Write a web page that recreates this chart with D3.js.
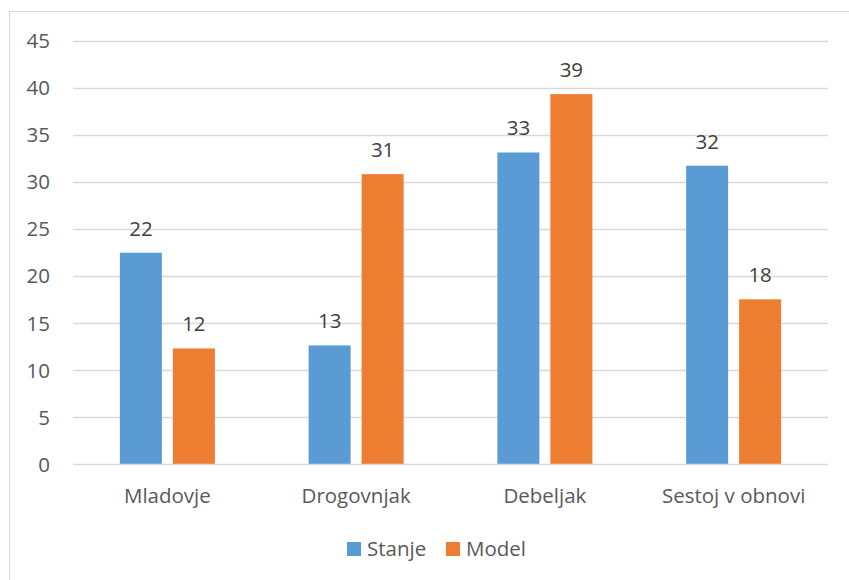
<!DOCTYPE html>
<html>
<head>
<meta charset="utf-8">
<script src="https://cdn.jsdelivr.net/npm/d3@7/dist/d3.min.js"></script>
<style>
  html, body { margin: 0; padding: 0; background: #fff; }
  svg { display: block; font-family: "Open Sans", "Noto Sans", sans-serif; }
</style>
</head>
<body>
<svg id="chart" width="849" height="580"></svg>
<script>
// Stands by category: current state (Stanje) vs. model target (Model)
const categories = ["Mladovje", "Drogovnjak", "Debeljak", "Sestoj v obnovi"];
const seriesNames = ["Stanje", "Model"];
const stanje = [22.45, 12.6, 33.1, 31.7];
const model = [12.28, 30.8, 39.3, 17.5];
const yTicks = [0, 5, 10, 15, 20, 25, 30, 35, 40, 45];
const colors = ["#5b9bd5", "#ed7d31"];

const FONT = "'Open Sans', 'Noto Sans', sans-serif";
const FS = 20.5;

const svg = d3.select("#chart");
const W = 849, H = 580;

// chart frame (left and top edges visible)
svg.append("rect")
  .attr("x", 9.5).attr("y", 11.5)
  .attr("width", W + 10).attr("height", H + 10)
  .attr("fill", "#fff").attr("stroke", "#d9d9d9").attr("stroke-width", 1);

const plot = { left: 73, right: 828, top: 40.5, bottom: 464 };

const x0 = d3.scaleBand().domain(categories).range([plot.left, plot.right]);
const y = d3.scaleLinear().domain([0, 45]).range([plot.bottom, plot.top]);

// bars within a category: 42px wide with an 11px gap
const barW = 42, barGap = 11;
const barX = k => (k === 0 ? -(barW + barGap / 2) : barGap / 2);

// horizontal gridlines
svg.append("g").selectAll("line")
  .data(yTicks.filter(t => t > 0))
  .join("line")
  .attr("x1", plot.left).attr("x2", plot.right)
  .attr("y1", d => Math.round(y(d)) + 0.5).attr("y2", d => Math.round(y(d)) + 0.5)
  .attr("stroke", "#d9d9d9").attr("stroke-width", 1.3);

// y-axis tick labels
const yAxis = d3.axisLeft(y).tickValues(yTicks).tickSize(0).tickPadding(0);
const gy = svg.append("g").attr("transform", `translate(${50},0)`).call(yAxis);
gy.select(".domain").remove();
gy.selectAll("text")
  .attr("fill", "#595959").attr("font-size", FS)
  .attr("font-family", FONT)
  .attr("dy", "0.35em");

const series = [stanje, model];
const data = categories.map((c, i) => ({
  cat: c,
  vals: seriesNames.map((s, k) => ({ name: s, value: series[k][i], color: colors[k] }))
}));

const groups = svg.append("g").selectAll("g")
  .data(data).join("g")
  .attr("transform", d => `translate(${x0(d.cat) + x0.bandwidth() / 2},0)`);

groups.selectAll("rect")
  .data(d => d.vals).join("rect")
  .attr("x", (d, k) => barX(k))
  .attr("width", barW)
  .attr("y", d => y(d.value))
  .attr("height", d => y(0) - y(d.value))
  .attr("fill", d => d.color);

// value labels above bars
const fmt = d3.format(".0f");
groups.selectAll("text.val")
  .data(d => d.vals).join("text")
  .attr("class", "val")
  .attr("x", (d, k) => barX(k) + barW / 2)
  .attr("y", d => y(d.value) - 17)
  .attr("text-anchor", "middle")
  .attr("fill", "#404040").attr("font-size", FS)
  .text(d => fmt(d.value));

// category axis line
svg.append("line")
  .attr("x1", plot.left).attr("x2", plot.right)
  .attr("y1", plot.bottom + 0.5).attr("y2", plot.bottom + 0.5)
  .attr("stroke", "#d9d9d9").attr("stroke-width", 1.3);

const xAxis = d3.axisBottom(x0).tickSize(0).tickPadding(0);
const gx = svg.append("g").attr("transform", `translate(0,${plot.bottom})`).call(xAxis);
gx.select(".domain").remove();
gx.selectAll("text")
  .attr("fill", "#595959").attr("font-size", FS)
  .attr("font-family", FONT)
  .attr("dy", null).attr("y", 39);

// legend
const legend = svg.append("g").attr("transform", "translate(347,542)");
const items = [{ name: seriesNames[0], color: colors[0], x: 0 }, { name: seriesNames[1], color: colors[1], x: 99 }];
const li = legend.selectAll("g").data(items).join("g").attr("transform", d => `translate(${d.x},0)`);
li.append("rect").attr("width", 14).attr("height", 14).attr("fill", d => d.color);
li.append("text").attr("x", 20).attr("y", 14)
  .attr("fill", "#595959").attr("font-size", FS)
  .text(d => d.name);
</script>
</body>
</html>
